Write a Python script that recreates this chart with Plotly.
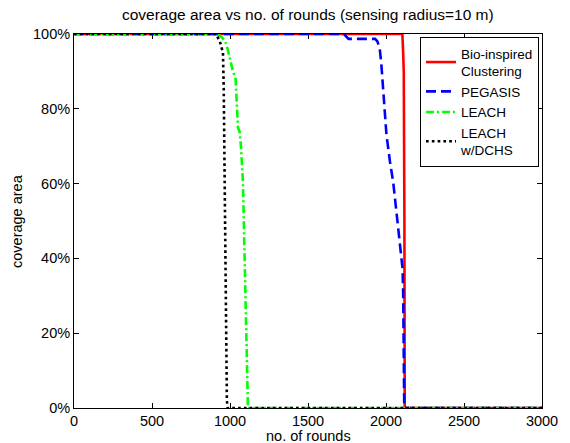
import plotly.graph_objects as go

# ---- data ----
bio_x = [0, 2105, 2110, 2114, 2118, 2120, 3000]
bio_y = [100, 100, 95, 89.8, 50, 0, 0]

peg_x = [0, 1730, 1760, 1930, 1945, 1960, 1970, 1982, 2003, 2025, 2046, 2067, 2089, 2106, 2110, 2113, 2117, 3000]
peg_y = [100, 100, 98.7, 98.7, 98, 96, 92, 84.5, 73, 66, 60.4, 52.4, 43.5, 37.3, 31, 15, 0, 0]

leach_x = [0, 920, 950, 970, 987, 1000, 1019, 1036, 1045, 1051, 1062, 1070, 1083, 1090, 1100, 1110, 1115, 3000]
leach_y = [100, 100, 99, 98, 95.6, 93, 90, 88, 80, 75, 73.8, 70, 60.4, 45, 25, 8, 0, 0]

dchs_x = [0, 910, 935, 955, 960, 965, 970, 975, 980, 985, 3000]
dchs_y = [100, 100, 98, 95, 85, 60, 40, 20, 2, 0, 0]

x_ticks = [0, 500, 1000, 1500, 2000, 2500, 3000]
y_ticks = [0, 20, 40, 60, 80, 100]
y_tick_labels = ["0%", "20%", "40%", "60%", "80%", "100%"]

FONT = "Liberation Sans, Arial, Helvetica, sans-serif"

fig = go.Figure()
fig.add_trace(go.Scatter(x=bio_x, y=bio_y, mode="lines", name="Bio-inspired<br>Clustering",
                         line=dict(color="#ff0000", width=2.6), cliponaxis=False))
fig.add_trace(go.Scatter(x=peg_x, y=peg_y, mode="lines", name="PEGASIS",
                         line=dict(color="#0000ff", width=2.6, dash="10px,5px"), cliponaxis=False))
fig.add_trace(go.Scatter(x=leach_x, y=leach_y, mode="lines", name="LEACH",
                         line=dict(color="#00ff00", width=2.6, dash="8px,3px,2px,3px"), cliponaxis=False))
fig.add_trace(go.Scatter(x=dchs_x, y=dchs_y, mode="lines", name="LEACH<br>w/DCHS",
                         line=dict(color="#000000", width=2.6, dash="2.7px,3.1px"), cliponaxis=False))

axis_common = dict(showline=True, linecolor="black", linewidth=1, mirror="ticks",
                   ticks="inside", ticklen=5, tickcolor="black", showgrid=False, zeroline=False,
                   tickfont=dict(family=FONT, size=14.5, color="black"), layer="below traces")

fig.update_xaxes(range=[0, 3000], tickvals=x_ticks, ticktext=[str(v) for v in x_ticks], **axis_common)
fig.update_yaxes(range=[0, 100], tickvals=y_ticks, ticktext=y_tick_labels, **axis_common)

fig.update_layout(
    width=570, height=443,
    margin=dict(l=74, r=28, t=34, b=35),
    paper_bgcolor="white", plot_bgcolor="white",
    font=dict(family=FONT, size=15, color="black"),
    title=dict(text="coverage area vs no. of rounds (sensing radius=10 m)",
               x=0.54, xanchor="center", y=1 - 15 / 443, yanchor="middle", yref="container",
               font=dict(family=FONT, size=15.5, color="black")),
    showlegend=True,
    legend=dict(x=1 - 3 / 468, xanchor="right", y=1 - 3 / 374, yanchor="top",
                bgcolor="white", bordercolor="black", borderwidth=1,
                font=dict(family=FONT, size=13.5, color="black"),
                tracegroupgap=0, itemwidth=30),
    annotations=[
        dict(text="no. of rounds", xref="paper", yref="paper", x=0.5, y=-27.5 / 374,
             xanchor="center", yanchor="middle", showarrow=False,
             font=dict(family=FONT, size=14.5, color="black")),
        dict(text="coverage area", xref="paper", yref="paper", x=-57 / 468, y=0.5,
             xanchor="center", yanchor="middle", textangle=-90, showarrow=False,
             font=dict(family=FONT, size=14.5, color="black")),
    ],
)

fig.write_html("out.html", config={"displayModeBar": False},
               post_script="document.body.style.margin='0';document.body.style.overflow='hidden';")
